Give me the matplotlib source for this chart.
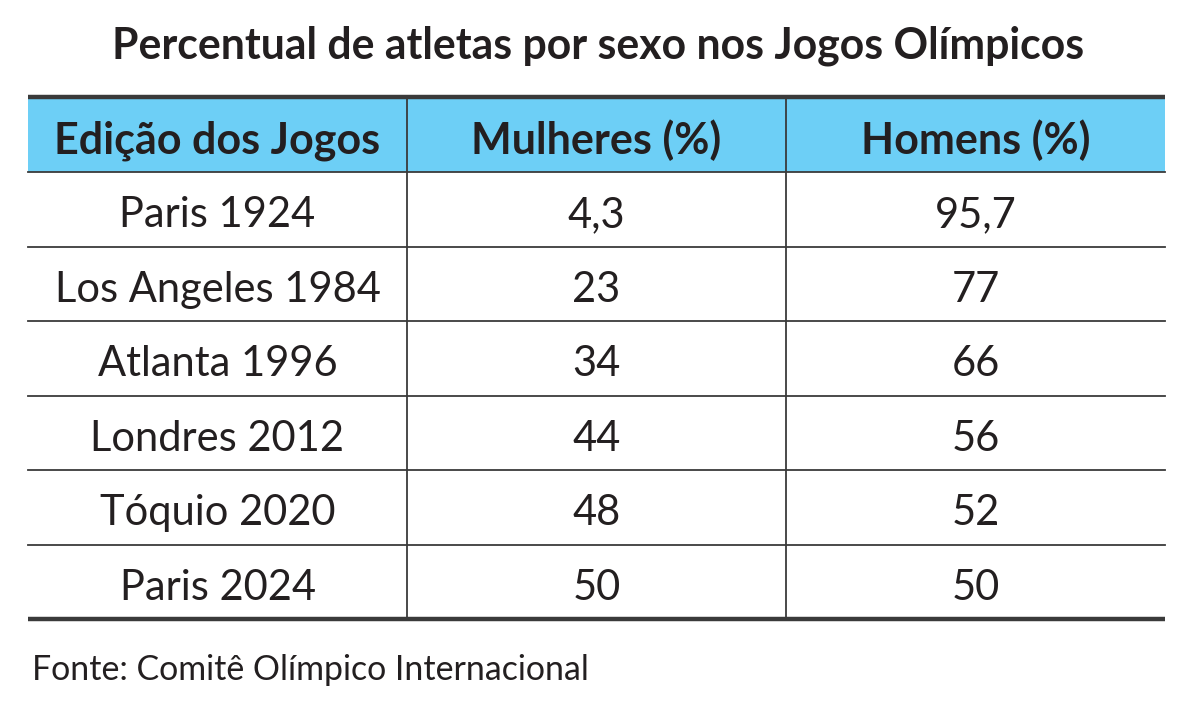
import matplotlib.pyplot as plt
from matplotlib.patches import Rectangle

plt.rcParams['font.family'] = ['Lato', 'DejaVu Sans']

title = "Percentual de atletas por sexo nos Jogos Olímpicos"
headers = ["Edição dos Jogos", "Mulheres (%)", "Homens (%)"]
editions = ["Paris 1924", "Los Angeles 1984", "Atlanta 1996",
            "Londres 2012", "Tóquio 2020", "Paris 2024"]
women = ["4,3", "23", "34", "44", "48", "50"]
men = ["95,7", "77", "66", "56", "52", "50"]
source = "Fonte: Comitê Olímpico Internacional"

# table geometry in pixels
col_edges = [28, 407, 786, 1165]
top = 97
header_h = 75
row_h = 74.5
text_color = '#231f20'
line_color = '#3a3a3a'

fig = plt.figure(figsize=(12, 7.14), dpi=100)
ax = fig.add_axes([0, 0, 1, 1])
ax.set_xlim(0, 1200)
ax.set_ylim(714, 0)
ax.axis('off')

ax.text(598, 46, title, ha='center', va='center', fontsize=30.8,
        fontweight='bold', color=text_color)

# header band
ax.add_patch(Rectangle((col_edges[0], top), col_edges[-1] - col_edges[0], header_h,
                       facecolor='#6dcff6', edgecolor='none'))
for j, h in enumerate(headers):
    cx = (col_edges[j] + col_edges[j + 1]) / 2
    ax.text(cx, top + header_h / 2 + 6, h, ha='center', va='center',
            fontsize=31, fontweight='bold', color=text_color)

# body rows
for i, row in enumerate(zip(editions, women, men)):
    y0 = top + header_h + i * row_h
    for j, val in enumerate(row):
        cx = (col_edges[j] + col_edges[j + 1]) / 2
        ax.text(cx, y0 + row_h / 2 + 6, val, ha='center', va='center',
                fontsize=30, color=text_color)

bottom = top + header_h + len(editions) * row_h

# horizontal rules
ax.plot([col_edges[0], col_edges[-1]], [top, top], color=line_color, lw=3.2,
        solid_capstyle='butt')
ax.plot([col_edges[0], col_edges[-1]], [bottom, bottom], color=line_color, lw=3.2,
        solid_capstyle='butt')
for i in range(len(editions)):
    y = top + header_h + i * row_h
    ax.plot([col_edges[0], col_edges[-1]], [y, y], color=line_color, lw=1.3)

# vertical rules
for x in col_edges[1:-1]:
    ax.plot([x, x], [top, bottom], color=line_color, lw=1.3)

ax.text(32, 670, source, ha='left', va='center', fontsize=24.4, color=text_color)

fig.savefig('out.png', dpi=100, facecolor='white')
